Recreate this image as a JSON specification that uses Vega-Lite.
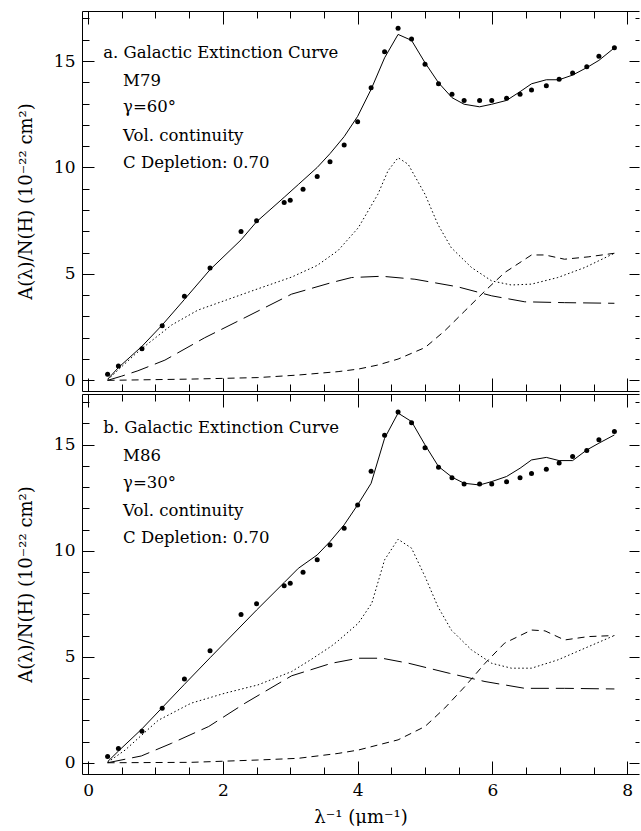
{
  "$schema": "https://vega.github.io/schema/vega-lite/v6.json",
  "padding": {"left": 17, "top": 10, "right": 0, "bottom": 0},
  "background": "white",
  "config": {
    "view": {"stroke": null},
    "concat": {"spacing": 1},
    "axis": {
      "domainColor": "black", "tickColor": "black", "labelColor": "black", "titleColor": "black",
      "grid": false, "labelFont": "DejaVu Serif", "titleFont": "DejaVu Serif",
      "labelFontSize": 17, "titleFontSize": 18, "titleFontWeight": "normal",
      "domainWidth": 1, "tickWidth": 1
    }
  },
  "datasets": {
    "obs": [
      {"x": 0.29, "y": 0.29}, {"x": 0.45, "y": 0.67}, {"x": 0.80, "y": 1.49}, {"x": 1.10, "y": 2.57},
      {"x": 1.43, "y": 3.95}, {"x": 1.81, "y": 5.28}, {"x": 2.27, "y": 6.99}, {"x": 2.50, "y": 7.50},
      {"x": 2.91, "y": 8.35}, {"x": 3.00, "y": 8.46}, {"x": 3.19, "y": 8.98}, {"x": 3.40, "y": 9.57},
      {"x": 3.59, "y": 10.27}, {"x": 3.80, "y": 11.06}, {"x": 4.00, "y": 12.15}, {"x": 4.20, "y": 13.75},
      {"x": 4.40, "y": 15.44}, {"x": 4.60, "y": 16.54}, {"x": 4.80, "y": 16.03}, {"x": 5.00, "y": 14.85},
      {"x": 5.20, "y": 13.93}, {"x": 5.40, "y": 13.44}, {"x": 5.58, "y": 13.15}, {"x": 5.81, "y": 13.15},
      {"x": 5.99, "y": 13.15}, {"x": 6.21, "y": 13.25}, {"x": 6.41, "y": 13.44}, {"x": 6.58, "y": 13.64},
      {"x": 6.80, "y": 13.84}, {"x": 6.99, "y": 14.14}, {"x": 7.19, "y": 14.44}, {"x": 7.40, "y": 14.73},
      {"x": 7.58, "y": 15.23}, {"x": 7.81, "y": 15.62}
    ],
    "model": [
      {"panel": "a", "curve": "total", "x": 0.29, "y": 0.05}, {"panel": "a", "curve": "total", "x": 0.45, "y": 0.6},
      {"panel": "a", "curve": "total", "x": 0.8, "y": 1.6}, {"panel": "a", "curve": "total", "x": 1.1, "y": 2.6},
      {"panel": "a", "curve": "total", "x": 1.43, "y": 3.8}, {"panel": "a", "curve": "total", "x": 1.81, "y": 5.2},
      {"panel": "a", "curve": "total", "x": 2.27, "y": 6.6}, {"panel": "a", "curve": "total", "x": 2.5, "y": 7.45},
      {"panel": "a", "curve": "total", "x": 2.91, "y": 8.6}, {"panel": "a", "curve": "total", "x": 3.12, "y": 9.2},
      {"panel": "a", "curve": "total", "x": 3.4, "y": 10.0}, {"panel": "a", "curve": "total", "x": 3.59, "y": 10.65},
      {"panel": "a", "curve": "total", "x": 3.8, "y": 11.45}, {"panel": "a", "curve": "total", "x": 4.0, "y": 12.4},
      {"panel": "a", "curve": "total", "x": 4.2, "y": 13.67}, {"panel": "a", "curve": "total", "x": 4.4, "y": 15.15},
      {"panel": "a", "curve": "total", "x": 4.6, "y": 16.25}, {"panel": "a", "curve": "total", "x": 4.8, "y": 15.97},
      {"panel": "a", "curve": "total", "x": 5.0, "y": 14.92}, {"panel": "a", "curve": "total", "x": 5.2, "y": 13.98},
      {"panel": "a", "curve": "total", "x": 5.4, "y": 13.28}, {"panel": "a", "curve": "total", "x": 5.58, "y": 12.97},
      {"panel": "a", "curve": "total", "x": 5.81, "y": 12.85}, {"panel": "a", "curve": "total", "x": 5.99, "y": 12.97},
      {"panel": "a", "curve": "total", "x": 6.21, "y": 13.15}, {"panel": "a", "curve": "total", "x": 6.41, "y": 13.56},
      {"panel": "a", "curve": "total", "x": 6.58, "y": 13.93}, {"panel": "a", "curve": "total", "x": 6.8, "y": 14.12},
      {"panel": "a", "curve": "total", "x": 6.99, "y": 14.12}, {"panel": "a", "curve": "total", "x": 7.19, "y": 14.34},
      {"panel": "a", "curve": "total", "x": 7.4, "y": 14.69}, {"panel": "a", "curve": "total", "x": 7.58, "y": 15.03},
      {"panel": "a", "curve": "total", "x": 7.81, "y": 15.62},

      {"panel": "a", "curve": "dotted", "x": 0.29, "y": 0.02}, {"panel": "a", "curve": "dotted", "x": 0.45, "y": 0.5},
      {"panel": "a", "curve": "dotted", "x": 0.69, "y": 1.2}, {"panel": "a", "curve": "dotted", "x": 0.84, "y": 1.6},
      {"panel": "a", "curve": "dotted", "x": 1.24, "y": 2.6}, {"panel": "a", "curve": "dotted", "x": 1.63, "y": 3.3},
      {"panel": "a", "curve": "dotted", "x": 2.03, "y": 3.75}, {"panel": "a", "curve": "dotted", "x": 2.52, "y": 4.3},
      {"panel": "a", "curve": "dotted", "x": 3.02, "y": 4.85}, {"panel": "a", "curve": "dotted", "x": 3.4, "y": 5.4},
      {"panel": "a", "curve": "dotted", "x": 3.71, "y": 6.1}, {"panel": "a", "curve": "dotted", "x": 4.01, "y": 7.17},
      {"panel": "a", "curve": "dotted", "x": 4.3, "y": 8.74}, {"panel": "a", "curve": "dotted", "x": 4.45, "y": 9.84},
      {"panel": "a", "curve": "dotted", "x": 4.6, "y": 10.46}, {"panel": "a", "curve": "dotted", "x": 4.75, "y": 10.15},
      {"panel": "a", "curve": "dotted", "x": 5.0, "y": 8.74}, {"panel": "a", "curve": "dotted", "x": 5.19, "y": 7.33},
      {"panel": "a", "curve": "dotted", "x": 5.39, "y": 6.23}, {"panel": "a", "curve": "dotted", "x": 5.69, "y": 5.3},
      {"panel": "a", "curve": "dotted", "x": 5.99, "y": 4.67}, {"panel": "a", "curve": "dotted", "x": 6.28, "y": 4.48},
      {"panel": "a", "curve": "dotted", "x": 6.58, "y": 4.52}, {"panel": "a", "curve": "dotted", "x": 6.97, "y": 4.83},
      {"panel": "a", "curve": "dotted", "x": 7.37, "y": 5.3}, {"panel": "a", "curve": "dotted", "x": 7.81, "y": 5.97},

      {"panel": "a", "curve": "longdash", "x": 0.29, "y": 0.0}, {"panel": "a", "curve": "longdash", "x": 0.5, "y": 0.2},
      {"panel": "a", "curve": "longdash", "x": 0.74, "y": 0.45}, {"panel": "a", "curve": "longdash", "x": 1.14, "y": 0.95},
      {"panel": "a", "curve": "longdash", "x": 1.73, "y": 2.0}, {"panel": "a", "curve": "longdash", "x": 2.33, "y": 2.95},
      {"panel": "a", "curve": "longdash", "x": 3.02, "y": 4.05}, {"panel": "a", "curve": "longdash", "x": 3.61, "y": 4.59},
      {"panel": "a", "curve": "longdash", "x": 3.91, "y": 4.83}, {"panel": "a", "curve": "longdash", "x": 4.36, "y": 4.89},
      {"panel": "a", "curve": "longdash", "x": 4.85, "y": 4.75}, {"panel": "a", "curve": "longdash", "x": 5.49, "y": 4.39},
      {"panel": "a", "curve": "longdash", "x": 5.99, "y": 3.97}, {"panel": "a", "curve": "longdash", "x": 6.48, "y": 3.69},
      {"panel": "a", "curve": "longdash", "x": 7.07, "y": 3.65}, {"panel": "a", "curve": "longdash", "x": 7.81, "y": 3.62},

      {"panel": "a", "curve": "shortdash", "x": 0.29, "y": 0.0}, {"panel": "a", "curve": "shortdash", "x": 1.53, "y": 0.06},
      {"panel": "a", "curve": "shortdash", "x": 2.52, "y": 0.13}, {"panel": "a", "curve": "shortdash", "x": 3.12, "y": 0.25},
      {"panel": "a", "curve": "shortdash", "x": 3.71, "y": 0.41}, {"panel": "a", "curve": "shortdash", "x": 4.01, "y": 0.53},
      {"panel": "a", "curve": "shortdash", "x": 4.3, "y": 0.72}, {"panel": "a", "curve": "shortdash", "x": 4.6, "y": 1.0},
      {"panel": "a", "curve": "shortdash", "x": 5.0, "y": 1.54}, {"panel": "a", "curve": "shortdash", "x": 5.29, "y": 2.32},
      {"panel": "a", "curve": "shortdash", "x": 5.59, "y": 3.26}, {"panel": "a", "curve": "shortdash", "x": 5.89, "y": 4.2},
      {"panel": "a", "curve": "shortdash", "x": 6.18, "y": 5.06}, {"panel": "a", "curve": "shortdash", "x": 6.58, "y": 5.89},
      {"panel": "a", "curve": "shortdash", "x": 6.78, "y": 5.89}, {"panel": "a", "curve": "shortdash", "x": 7.07, "y": 5.69},
      {"panel": "a", "curve": "shortdash", "x": 7.42, "y": 5.8}, {"panel": "a", "curve": "shortdash", "x": 7.81, "y": 5.97},

      {"panel": "b", "curve": "total", "x": 0.29, "y": 0.05}, {"panel": "b", "curve": "total", "x": 0.45, "y": 0.55},
      {"panel": "b", "curve": "total", "x": 0.8, "y": 1.6}, {"panel": "b", "curve": "total", "x": 1.1, "y": 2.6},
      {"panel": "b", "curve": "total", "x": 1.43, "y": 3.7}, {"panel": "b", "curve": "total", "x": 1.81, "y": 4.95},
      {"panel": "b", "curve": "total", "x": 2.27, "y": 6.45}, {"panel": "b", "curve": "total", "x": 2.5, "y": 7.2},
      {"panel": "b", "curve": "total", "x": 2.91, "y": 8.5}, {"panel": "b", "curve": "total", "x": 3.12, "y": 9.17},
      {"panel": "b", "curve": "total", "x": 3.4, "y": 9.8}, {"panel": "b", "curve": "total", "x": 3.59, "y": 10.43},
      {"panel": "b", "curve": "total", "x": 3.8, "y": 11.22}, {"panel": "b", "curve": "total", "x": 4.0, "y": 12.16},
      {"panel": "b", "curve": "total", "x": 4.2, "y": 13.18}, {"panel": "b", "curve": "total", "x": 4.4, "y": 15.3},
      {"panel": "b", "curve": "total", "x": 4.6, "y": 16.49}, {"panel": "b", "curve": "total", "x": 4.8, "y": 16.09},
      {"panel": "b", "curve": "total", "x": 5.0, "y": 14.99}, {"panel": "b", "curve": "total", "x": 5.2, "y": 13.97},
      {"panel": "b", "curve": "total", "x": 5.4, "y": 13.47}, {"panel": "b", "curve": "total", "x": 5.58, "y": 13.18},
      {"panel": "b", "curve": "total", "x": 5.81, "y": 13.1}, {"panel": "b", "curve": "total", "x": 5.99, "y": 13.26},
      {"panel": "b", "curve": "total", "x": 6.21, "y": 13.5}, {"panel": "b", "curve": "total", "x": 6.41, "y": 13.89},
      {"panel": "b", "curve": "total", "x": 6.58, "y": 14.28}, {"panel": "b", "curve": "total", "x": 6.8, "y": 14.4},
      {"panel": "b", "curve": "total", "x": 6.99, "y": 14.25}, {"panel": "b", "curve": "total", "x": 7.19, "y": 14.25},
      {"panel": "b", "curve": "total", "x": 7.4, "y": 14.75}, {"panel": "b", "curve": "total", "x": 7.58, "y": 15.07},
      {"panel": "b", "curve": "total", "x": 7.81, "y": 15.46},

      {"panel": "b", "curve": "dotted", "x": 0.29, "y": 0.02}, {"panel": "b", "curve": "dotted", "x": 0.55, "y": 0.6},
      {"panel": "b", "curve": "dotted", "x": 1.04, "y": 2.0}, {"panel": "b", "curve": "dotted", "x": 1.53, "y": 2.81},
      {"panel": "b", "curve": "dotted", "x": 2.03, "y": 3.28}, {"panel": "b", "curve": "dotted", "x": 2.52, "y": 3.67},
      {"panel": "b", "curve": "dotted", "x": 3.02, "y": 4.3}, {"panel": "b", "curve": "dotted", "x": 3.3, "y": 4.85},
      {"panel": "b", "curve": "dotted", "x": 3.61, "y": 5.5}, {"panel": "b", "curve": "dotted", "x": 3.71, "y": 5.75},
      {"panel": "b", "curve": "dotted", "x": 4.01, "y": 6.58}, {"panel": "b", "curve": "dotted", "x": 4.21, "y": 7.52},
      {"panel": "b", "curve": "dotted", "x": 4.4, "y": 9.57}, {"panel": "b", "curve": "dotted", "x": 4.6, "y": 10.54},
      {"panel": "b", "curve": "dotted", "x": 4.8, "y": 10.12}, {"panel": "b", "curve": "dotted", "x": 5.0, "y": 8.78},
      {"panel": "b", "curve": "dotted", "x": 5.19, "y": 7.37}, {"panel": "b", "curve": "dotted", "x": 5.39, "y": 6.26},
      {"panel": "b", "curve": "dotted", "x": 5.69, "y": 5.32}, {"panel": "b", "curve": "dotted", "x": 5.99, "y": 4.69},
      {"panel": "b", "curve": "dotted", "x": 6.28, "y": 4.46}, {"panel": "b", "curve": "dotted", "x": 6.58, "y": 4.46},
      {"panel": "b", "curve": "dotted", "x": 6.97, "y": 4.85}, {"panel": "b", "curve": "dotted", "x": 7.37, "y": 5.4},
      {"panel": "b", "curve": "dotted", "x": 7.81, "y": 6.0},

      {"panel": "b", "curve": "longdash", "x": 0.29, "y": 0.0}, {"panel": "b", "curve": "longdash", "x": 0.79, "y": 0.32},
      {"panel": "b", "curve": "longdash", "x": 1.24, "y": 0.92}, {"panel": "b", "curve": "longdash", "x": 1.79, "y": 1.71},
      {"panel": "b", "curve": "longdash", "x": 2.33, "y": 2.81}, {"panel": "b", "curve": "longdash", "x": 3.02, "y": 4.1},
      {"panel": "b", "curve": "longdash", "x": 3.61, "y": 4.69}, {"panel": "b", "curve": "longdash", "x": 4.01, "y": 4.93},
      {"panel": "b", "curve": "longdash", "x": 4.36, "y": 4.93}, {"panel": "b", "curve": "longdash", "x": 4.76, "y": 4.69},
      {"panel": "b", "curve": "longdash", "x": 5.36, "y": 4.22}, {"panel": "b", "curve": "longdash", "x": 5.89, "y": 3.83},
      {"panel": "b", "curve": "longdash", "x": 6.48, "y": 3.51}, {"panel": "b", "curve": "longdash", "x": 7.07, "y": 3.51},
      {"panel": "b", "curve": "longdash", "x": 7.81, "y": 3.48},

      {"panel": "b", "curve": "shortdash", "x": 0.29, "y": 0.0}, {"panel": "b", "curve": "shortdash", "x": 1.53, "y": 0.02},
      {"panel": "b", "curve": "shortdash", "x": 2.52, "y": 0.13}, {"panel": "b", "curve": "shortdash", "x": 3.12, "y": 0.21},
      {"panel": "b", "curve": "shortdash", "x": 3.71, "y": 0.44}, {"panel": "b", "curve": "shortdash", "x": 4.01, "y": 0.6},
      {"panel": "b", "curve": "shortdash", "x": 4.6, "y": 1.08}, {"panel": "b", "curve": "shortdash", "x": 5.0, "y": 1.71},
      {"panel": "b", "curve": "shortdash", "x": 5.29, "y": 2.57}, {"panel": "b", "curve": "shortdash", "x": 5.59, "y": 3.59},
      {"panel": "b", "curve": "shortdash", "x": 5.89, "y": 4.69}, {"panel": "b", "curve": "shortdash", "x": 6.18, "y": 5.64},
      {"panel": "b", "curve": "shortdash", "x": 6.58, "y": 6.26}, {"panel": "b", "curve": "shortdash", "x": 6.78, "y": 6.22},
      {"panel": "b", "curve": "shortdash", "x": 7.07, "y": 5.79}, {"panel": "b", "curve": "shortdash", "x": 7.42, "y": 5.95},
      {"panel": "b", "curve": "shortdash", "x": 7.81, "y": 6.0}
    ],
    "notes": [
      {"panel": "a", "x": 0.224, "y": 15.37, "text": "a. Galactic Extinction Curve"},
      {"panel": "a", "x": 0.52, "y": 14.06, "text": "M79"},
      {"panel": "a", "x": 0.52, "y": 12.84, "text": "γ=60°"},
      {"panel": "a", "x": 0.52, "y": 11.48, "text": "Vol. continuity"},
      {"panel": "a", "x": 0.52, "y": 10.21, "text": "C Depletion: 0.70"},
      {"panel": "b", "x": 0.224, "y": 15.78, "text": "b. Galactic Extinction Curve"},
      {"panel": "b", "x": 0.52, "y": 14.47, "text": "M86"},
      {"panel": "b", "x": 0.52, "y": 13.18, "text": "γ=30°"},
      {"panel": "b", "x": 0.52, "y": 11.88, "text": "Vol. continuity"},
      {"panel": "b", "x": 0.52, "y": 10.59, "text": "C Depletion: 0.70"}
    ]
  },
  "vconcat": [
    {
      "width": 557, "height": 380,
      "layer": [
        {
          "data": {"name": "obs"},
          "mark": {"type": "circle", "size": 25, "color": "black", "opacity": 1},
          "encoding": {
            "x": {"field": "x", "type": "quantitative", "scale": {"domain": [-0.09, 8.175], "nice": false, "zero": false},
              "axis": {"orient": "bottom", "values": [0,2,4,6,8], "labels": false, "title": null, "tickSize": -13}},
            "y": {"field": "y", "type": "quantitative", "scale": {"domain": [-0.5, 17.35], "nice": false, "zero": false},
              "axis": {"orient": "left", "values": [0,5,10,15], "labels": false, "title": null, "tickSize": -12}}
          }
        },
        {
          "data": {"name": "model"},
          "transform": [{"filter": "datum.panel === 'a' && datum.curve === 'total'"}],
          "mark": {"type": "line", "color": "black", "strokeWidth": 1},
          "encoding": {
            "x": {"field": "x", "type": "quantitative", "scale": {"domain": [-0.09, 8.175], "nice": false, "zero": false},
              "axis": {"orient": "bottom", "values": [0.5,1,1.5,2.5,3,3.5,4.5,5,5.5,6.5,7,7.5], "labels": false, "title": null, "domain": false, "tickSize": -7}},
            "y": {"field": "y", "type": "quantitative", "scale": {"domain": [-0.5, 17.35], "nice": false, "zero": false},
              "axis": {"orient": "left", "values": [1,2,3,4,6,7,8,9,11,12,13,14,16,17], "labels": false, "title": null, "domain": false, "tickSize": -7}}
          }
        },
        {
          "data": {"name": "model"},
          "transform": [{"filter": "datum.panel === 'a' && datum.curve === 'dotted'"}],
          "mark": {"type": "line", "color": "black", "strokeWidth": 1, "strokeDash": [1.5, 2.5]},
          "encoding": {
            "x": {"field": "x", "type": "quantitative", "scale": {"domain": [-0.09, 8.175], "nice": false, "zero": false},
              "axis": {"orient": "top", "values": [0,2,4,6,8], "labels": false, "title": null, "tickSize": -13}},
            "y": {"field": "y", "type": "quantitative", "scale": {"domain": [-0.5, 17.35], "nice": false, "zero": false},
              "axis": {"orient": "right", "values": [0,5,10,15], "labels": false, "title": null, "domain": false, "tickSize": -10}}
          }
        },
        {
          "data": {"name": "model"},
          "transform": [{"filter": "datum.panel === 'a' && datum.curve === 'longdash'"}],
          "mark": {"type": "line", "color": "black", "strokeWidth": 1, "strokeDash": [18, 7]},
          "encoding": {
            "x": {"field": "x", "type": "quantitative", "scale": {"domain": [-0.09, 8.175], "nice": false, "zero": false},
              "axis": {"orient": "top", "values": [0.5,1,1.5,2.5,3,3.5,4.5,5,5.5,6.5,7,7.5], "labels": false, "title": null, "domain": false, "tickSize": -7}},
            "y": {"field": "y", "type": "quantitative", "scale": {"domain": [-0.5, 17.35], "nice": false, "zero": false},
              "axis": {"orient": "right", "values": [1,2,3,4,6,7,8,9,11,12,13,14,16,17], "labels": false, "title": null, "domain": false, "tickSize": -4}}
          }
        },
        {
          "data": {"name": "model"},
          "transform": [{"filter": "datum.panel === 'a' && datum.curve === 'shortdash'"}],
          "mark": {"type": "line", "color": "black", "strokeWidth": 1, "strokeDash": [7, 5]},
          "encoding": {
            "x": {"field": "x", "type": "quantitative", "scale": {"domain": [-0.09, 8.175], "nice": false, "zero": false}, "axis": null},
            "y": {"field": "y", "type": "quantitative", "scale": {"domain": [-0.5, 17.35], "nice": false, "zero": false},
              "axis": {"orient": "left", "values": [0,5,10,15], "format": "d", "ticks": false, "tickSize": 0, "domain": false, "labelPadding": 7,
                "title": "A(λ)/N(H)  (10⁻²² cm²)", "titlePadding": 18}}
          }
        },
        {
          "data": {"name": "notes"},
          "transform": [{"filter": "datum.panel === 'a'"}],
          "mark": {"type": "text", "align": "left", "baseline": "middle", "font": "DejaVu Serif", "fontSize": 16.5, "color": "black"},
          "encoding": {
            "x": {"field": "x", "type": "quantitative", "scale": {"domain": [-0.09, 8.175], "nice": false, "zero": false}, "axis": null},
            "y": {"field": "y", "type": "quantitative", "scale": {"domain": [-0.5, 17.35], "nice": false, "zero": false}, "axis": null},
            "text": {"field": "text"}
          }
        }
      ],
      "resolve": {"axis": {"x": "independent", "y": "independent"}}
    },
    {
      "width": 557, "height": 380,
      "layer": [
        {
          "data": {"name": "obs"},
          "mark": {"type": "circle", "size": 25, "color": "black", "opacity": 1},
          "encoding": {
            "x": {"field": "x", "type": "quantitative", "scale": {"domain": [-0.09, 8.175], "nice": false, "zero": false},
              "axis": {"orient": "bottom", "values": [0,2,4,6,8], "labels": false, "title": null, "tickSize": -13}},
            "y": {"field": "y", "type": "quantitative", "scale": {"domain": [-0.53, 17.39], "nice": false, "zero": false},
              "axis": {"orient": "left", "values": [0,5,10,15], "labels": false, "title": null, "tickSize": -12}}
          }
        },
        {
          "data": {"name": "model"},
          "transform": [{"filter": "datum.panel === 'b' && datum.curve === 'total'"}],
          "mark": {"type": "line", "color": "black", "strokeWidth": 1},
          "encoding": {
            "x": {"field": "x", "type": "quantitative", "scale": {"domain": [-0.09, 8.175], "nice": false, "zero": false},
              "axis": {"orient": "bottom", "values": [0.5,1,1.5,2.5,3,3.5,4.5,5,5.5,6.5,7,7.5], "labels": false, "title": null, "domain": false, "tickSize": -7}},
            "y": {"field": "y", "type": "quantitative", "scale": {"domain": [-0.53, 17.39], "nice": false, "zero": false},
              "axis": {"orient": "left", "values": [1,2,3,4,6,7,8,9,11,12,13,14,16,17], "labels": false, "title": null, "domain": false, "tickSize": -7}}
          }
        },
        {
          "data": {"name": "model"},
          "transform": [{"filter": "datum.panel === 'b' && datum.curve === 'dotted'"}],
          "mark": {"type": "line", "color": "black", "strokeWidth": 1, "strokeDash": [1.5, 2.5]},
          "encoding": {
            "x": {"field": "x", "type": "quantitative", "scale": {"domain": [-0.09, 8.175], "nice": false, "zero": false},
              "axis": {"orient": "top", "values": [0,2,4,6,8], "labels": false, "title": null, "tickSize": -13}},
            "y": {"field": "y", "type": "quantitative", "scale": {"domain": [-0.53, 17.39], "nice": false, "zero": false},
              "axis": {"orient": "right", "values": [0,5,10,15], "labels": false, "title": null, "domain": false, "tickSize": -10}}
          }
        },
        {
          "data": {"name": "model"},
          "transform": [{"filter": "datum.panel === 'b' && datum.curve === 'longdash'"}],
          "mark": {"type": "line", "color": "black", "strokeWidth": 1, "strokeDash": [18, 7]},
          "encoding": {
            "x": {"field": "x", "type": "quantitative", "scale": {"domain": [-0.09, 8.175], "nice": false, "zero": false},
              "axis": {"orient": "top", "values": [0.5,1,1.5,2.5,3,3.5,4.5,5,5.5,6.5,7,7.5], "labels": false, "title": null, "domain": false, "tickSize": -7}},
            "y": {"field": "y", "type": "quantitative", "scale": {"domain": [-0.53, 17.39], "nice": false, "zero": false},
              "axis": {"orient": "right", "values": [1,2,3,4,6,7,8,9,11,12,13,14,16,17], "labels": false, "title": null, "domain": false, "tickSize": -4}}
          }
        },
        {
          "data": {"name": "model"},
          "transform": [{"filter": "datum.panel === 'b' && datum.curve === 'shortdash'"}],
          "mark": {"type": "line", "color": "black", "strokeWidth": 1, "strokeDash": [7, 5]},
          "encoding": {
            "x": {"field": "x", "type": "quantitative", "scale": {"domain": [-0.09, 8.175], "nice": false, "zero": false},
              "axis": {"orient": "bottom", "values": [0,2,4,6,8], "format": "d", "ticks": false, "tickSize": 0, "domain": false, "labelPadding": 8,
                "title": "λ⁻¹  (μm⁻¹)", "titlePadding": 10}},
            "y": {"field": "y", "type": "quantitative", "scale": {"domain": [-0.53, 17.39], "nice": false, "zero": false},
              "axis": {"orient": "left", "values": [0,5,10,15], "format": "d", "ticks": false, "tickSize": 0, "domain": false, "labelPadding": 7,
                "title": "A(λ)/N(H)  (10⁻²² cm²)", "titlePadding": 18}}
          }
        },
        {
          "data": {"name": "notes"},
          "transform": [{"filter": "datum.panel === 'b'"}],
          "mark": {"type": "text", "align": "left", "baseline": "middle", "font": "DejaVu Serif", "fontSize": 16.5, "color": "black"},
          "encoding": {
            "x": {"field": "x", "type": "quantitative", "scale": {"domain": [-0.09, 8.175], "nice": false, "zero": false}, "axis": null},
            "y": {"field": "y", "type": "quantitative", "scale": {"domain": [-0.53, 17.39], "nice": false, "zero": false}, "axis": null},
            "text": {"field": "text"}
          }
        }
      ],
      "resolve": {"axis": {"x": "independent", "y": "independent"}}
    }
  ]
}
